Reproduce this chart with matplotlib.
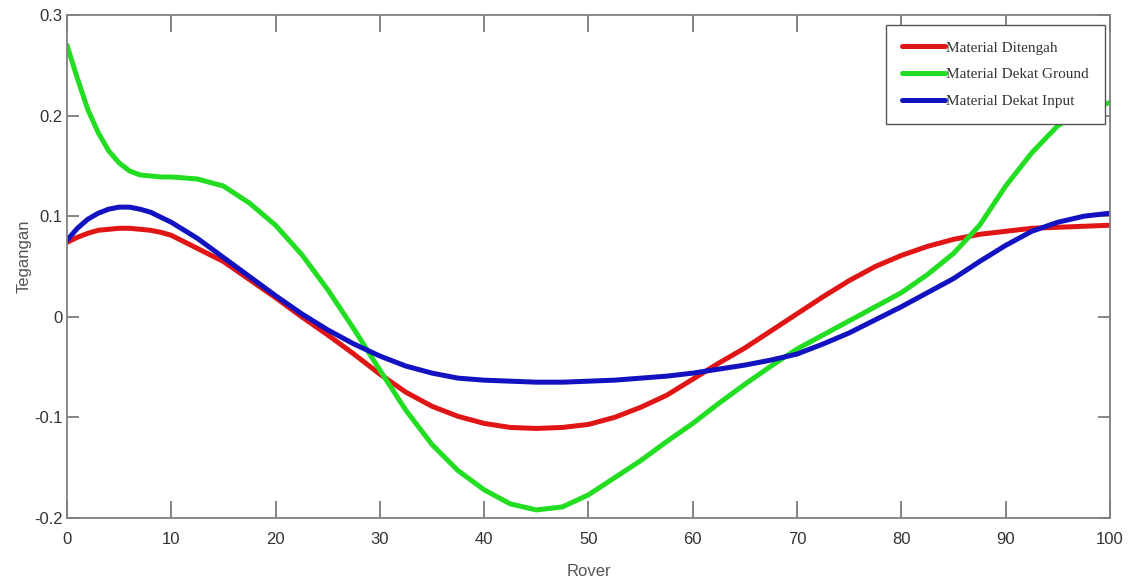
import matplotlib
matplotlib.use('Agg')
import matplotlib.pyplot as plt

# posisi rover (sumbu x)
rover = [0, 1, 2, 3, 4, 5, 6, 7, 8, 9, 10, 12.5, 15, 17.5, 20, 22.5, 25, 27.5, 30,
         32.5, 35, 37.5, 40, 42.5, 45, 47.5, 50, 52.5, 55, 57.5, 60, 62.5, 65, 67.5,
         70, 72.5, 75, 77.5, 80, 82.5, 85, 87.5, 90, 92.5, 95, 97.5, 100]

# tegangan tiap posisi material
ditengah = [0.074, 0.079, 0.083, 0.086, 0.087, 0.088, 0.088, 0.087, 0.086, 0.084, 0.081,
            0.068, 0.055, 0.037, 0.019, 0.000, -0.018, -0.037, -0.057, -0.075, -0.089,
            -0.099, -0.106, -0.110, -0.111, -0.110, -0.107, -0.100, -0.090, -0.078,
            -0.062, -0.046, -0.031, -0.014, 0.003, 0.020, 0.036, 0.050, 0.061, 0.070,
            0.077, 0.082, 0.085, 0.088, 0.089, 0.090, 0.091]
dekat_ground = [0.270, 0.237, 0.206, 0.183, 0.165, 0.153, 0.145, 0.141, 0.140, 0.139, 0.139,
                0.137, 0.130, 0.113, 0.091, 0.062, 0.027, -0.012, -0.053, -0.093, -0.127,
                -0.153, -0.172, -0.186, -0.192, -0.189, -0.177, -0.160, -0.143, -0.124,
                -0.106, -0.086, -0.067, -0.049, -0.032, -0.018, -0.004, 0.010, 0.024,
                0.042, 0.063, 0.091, 0.130, 0.163, 0.190, 0.205, 0.213]
dekat_input = [0.076, 0.088, 0.097, 0.103, 0.107, 0.109, 0.109, 0.107, 0.104, 0.099, 0.094,
               0.078, 0.059, 0.040, 0.021, 0.003, -0.013, -0.027, -0.039, -0.049, -0.056,
               -0.061, -0.063, -0.064, -0.065, -0.065, -0.064, -0.063, -0.061, -0.059,
               -0.056, -0.052, -0.048, -0.043, -0.037, -0.027, -0.016, -0.003, 0.010,
               0.024, 0.038, 0.055, 0.071, 0.085, 0.094, 0.100, 0.103]

xticks = [0, 10, 20, 30, 40, 50, 60, 70, 80, 90, 100]
yticks = [-0.2, -0.1, 0, 0.1, 0.2, 0.3]
ytick_labels = ['-0.2', '-0.1', '0', '0.1', '0.2', '0.3']

plt.rcParams['font.family'] = ['Liberation Sans Narrow', 'Liberation Sans', 'DejaVu Sans']

fig = plt.figure(figsize=(11.33, 5.82), dpi=100)
ax = fig.add_axes([0.0591, 0.110, 0.9206, 0.8642])

style = dict(lw=3.6, solid_joinstyle='round', solid_capstyle='round')
ax.plot(rover, ditengah, color='#e01515', label='Material Ditengah', **style)
ax.plot(rover, dekat_ground, color='#22dd22', label='Material Dekat Ground', **style)
ax.plot(rover, dekat_input, color='#1212c0', label='Material Dekat Input', **style)

ax.set_xlim(0, 100)
ax.set_ylim(-0.2, 0.3)
ax.set_xticks(xticks)
ax.set_yticks(yticks)
ax.set_yticklabels(ytick_labels)
ax.tick_params(axis='both', direction='in', top=True, right=True,
               labelsize=12, colors='#707070', labelcolor='#333333', width=1.2)
ax.tick_params(axis='x', length=12, pad=10)
ax.tick_params(axis='y', length=8.5, pad=3)
for s in ax.spines.values():
    s.set_color('#808080')
    s.set_linewidth(1.3)

ax.set_xlabel('Rover', fontsize=12, color='#555555', labelpad=12)
ax.set_ylabel('Tegangan', fontsize=12, color='#555555')
ax.yaxis.set_label_coords(-0.034, 0.52)

leg = ax.legend(loc='upper right', bbox_to_anchor=(0.9952, 0.980), borderaxespad=0,
                fancybox=False, framealpha=1, edgecolor='#555555',
                prop={'family': 'Liberation Serif', 'size': 11},
                handlelength=2.8, handletextpad=0.1, labelspacing=0.85,
                borderpad=1.05)
leg.get_frame().set_linewidth(1.0)
for t in leg.get_texts():
    t.set_color('#333333')

fig.savefig('out.png', dpi=100)
